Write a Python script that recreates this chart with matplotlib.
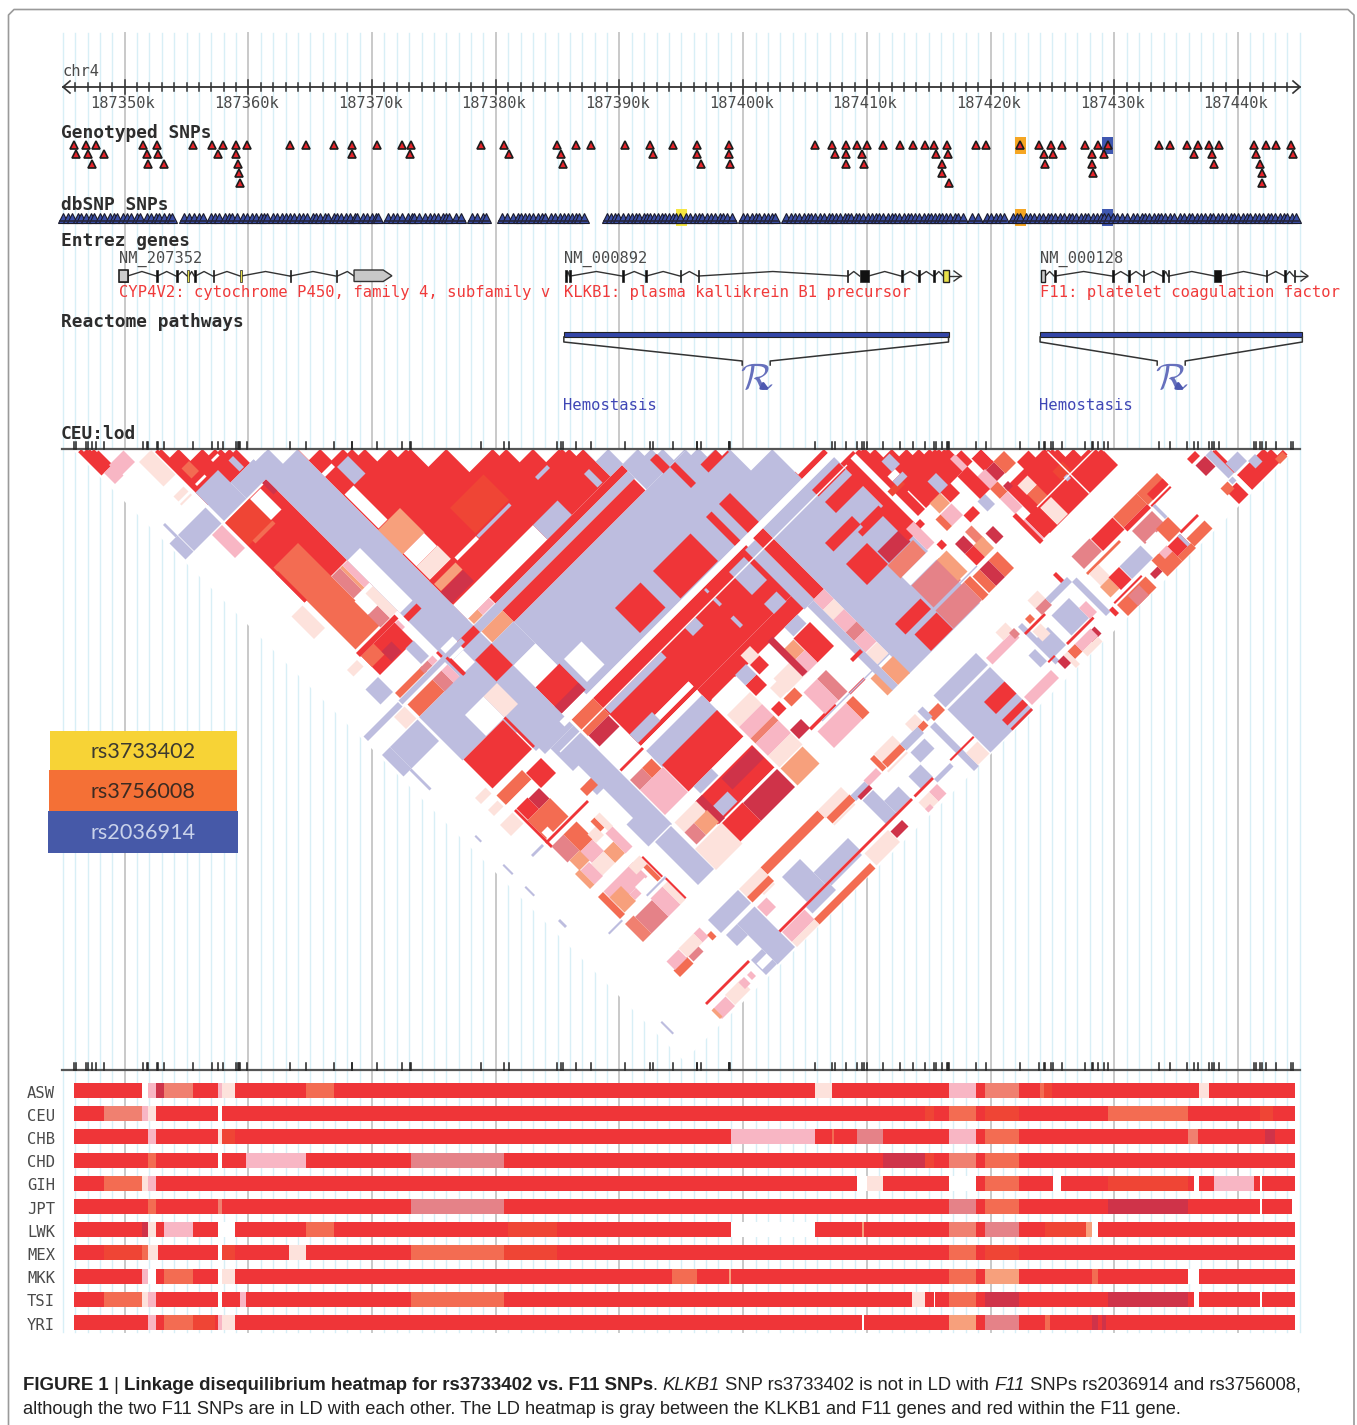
import matplotlib
matplotlib.use('Agg')
import matplotlib.pyplot as plt
from matplotlib.patches import Rectangle, Polygon
from matplotlib.transforms import Affine2D

# ---- genome positions are in kb beyond 187000 kb
snp_row1 = [345.94,346.86,347.69,351.48,352.60,355.50,357.06,357.98,358.97,359.86,363.33,364.65,366.95,368.34,370.42,372.43,373.16,378.83,380.65,384.97,386.45,387.71,390.47,392.46,394.30,396.28,398.85,405.84,407.2,408.3,409.17,409.97,411.32,412.7,413.7,414.69,415.44,416.47,418.81,419.63,422.34,423.92,424.91,425.74,427.65,428.67,429.46,433.65,434.48,435.9,436.79,437.68,438.5,441.3,442.23,443.09,444.31]
snp_row2 = [346.10,347.0,348.31,351.81,352.70,357.55,358.97,368.41,373.06,381.04,385.30,392.69,396.3,398.87,407.43,408.3,409.57,415.57,416.56,424.32,425.08,428.21,429.2,436.46,437.91,441.47,444.44]
snp_row3 = [347.33,351.91,353.2,359.14,385.43,396.6,398.91,408.3,409.8,416.07,424.42,428.21,438.04,441.8]
snp_row4 = [359.2,416.07,428.31,441.97]
snp_row5 = [359.3,416.66,441.97]
snp_rows = [snp_row1, snp_row2, snp_row3, snp_row4, snp_row5]
dbsnp_sites = [
345.0,345.4,345.7,346.2,346.5,346.9,347.3,347.5,348.0,348.3,348.8,349.1,349.4,349.9,350.2,350.5,351.0,351.2,351.8,352.1,352.5,352.8,353.2,353.6,353.8,
354.8,355.2,355.6,356.0,356.3,
357.0,357.3,357.6,358.1,358.4,358.7,359.1,359.6,359.9,360.3,360.6,361.0,361.3,361.5,362.0,362.3,362.7,363.0,363.4,363.7,364.1,364.4,364.7,365.2,365.5,365.8,366.2,366.4,366.9,367.2,367.5,367.9,368.2,368.6,368.8,369.3,369.6,370.0,370.3,370.5,
371.3,371.7,372.0,372.4,372.9,373.2,373.4,373.8,374.3,374.7,375.0,375.3,375.7,376.0,376.2,376.8,377.2,
378.1,378.5,379.0,379.2,
380.5,380.9,381.4,381.8,382.0,382.4,382.7,383.0,383.4,383.7,384.0,384.5,384.8,385.2,385.5,385.8,386.2,386.5,386.7,387.1,
389.0,389.3,389.6,389.9,390.3,390.7,391.0,391.3,391.6,392.0,392.2,392.5,392.8,393.1,393.4,393.7,394.0,394.3,394.6,394.9,395.4,395.7,396.1,396.4,396.7,397.1,397.4,397.7,398.1,398.4,398.7,399.1,
400.0,400.3,400.7,401.0,401.3,401.7,402.0,402.3,402.6,
403.5,403.9,404.2,404.5,404.9,405.2,405.5,405.8,406.2,406.5,406.9,407.2,407.5,407.8,408.2,408.5,408.7,409.1,409.4,409.7,410.1,410.4,410.7,411.0,411.3,411.7,412.0,412.3,412.6,413.0,413.3,413.6,413.9,414.2,414.6,414.9,415.2,415.5,415.8,416.1,416.4,416.7,417.1,417.4,417.8,
418.5,419.0,
419.7,420.0,420.4,420.8,421.1,
421.8,422.1,422.4,422.9,423.2,423.5,423.9,424.2,424.6,424.9,425.2,425.6,425.9,426.3,426.6,426.9,427.3,427.6,427.9,428.3,428.6,428.9,429.2,429.5,429.9,430.2,430.6,431.0,431.5,431.8,432.2,432.5,432.8,433.2,433.5,433.8,434.1,434.5,434.8,435.3,435.6,436.0,436.3,436.7,437.0,437.3,437.7,438.0,438.4,438.7,439.0,439.4,439.7,440.0,440.4,440.7,441.0,441.4,441.7,442.0,442.4,442.7,443.0,443.4,443.7,444.0,444.4,444.7]
dbsnp_segments = [(344.78,354.02),(354.58,356.56),(356.76,370.75),(371.08,377.54),(377.87,379.42),(380.25,387.34),(388.76,399.41),(399.77,402.81),(403.3,417.98),(418.31,419.2),(419.47,421.28),(421.55,444.97)]
highlight_snps = [(395.01,'#f5e642',False),(422.38,'#f5a623',True),(429.49,'#3f57b0',True)]
major_kb = [350,360,370,380,390,400,410,420,430,440]
major_labels = ['187350k','187360k','187370k','187380k','187390k','187400k','187410k','187420k','187430k','187440k']

gene_1_exons = [(349.57,350.23),(352.55,352.65),(354.14,354.24),(355.05,355.2),(355.62,355.72),(357.11,357.21),(359.32,359.44),(363.33,363.39),(367.05,367.2)]
gene_1_yellow = [(355.05,355.2),(359.32,359.44)]
gene_2_exons = [(385.59,385.7),(385.95,386.05),(390.2,390.3),(392.08,392.18),(394.88,394.98),(396.32,396.42),(408.37,408.47),(409.41,410.13),(412.75,412.85),(414.14,414.24),(415.36,415.46),(416.17,416.66)]
gene_3_exons = [(424.09,424.42),(425.13,425.23),(429.81,429.91),(431.13,431.23),(432.28,432.38),(433.87,433.97),(434.33,434.43),(438.1,438.64),(442.25,442.35),(443.75,443.85),(444.49,444.59)]
gene_labels = [('NM_207352','CYP4V2: cytochrome P450, family 4, subfamily v',349.5),('NM_000892','KLKB1: plasma kallikrein B1 precursor',385.48),('NM_000128','F11: platelet coagulation factor',423.98)]
pathway_spans = [(385.5,416.6),(424.0,445.2)]

# ---- population phase tracks: list of (end kb, state) from start kb
populations = ['ASW','CEU','CHB','CHD','GIH','JPT','LWK','MEX','MKK','TSI','YRI']
track_start = 345.93
tracks = {
'ASW':[(351.41,'R'),(351.85,'W'),(352.53,'P'),(353.21,'D'),(355.52,'S'),(357.56,'R'),(357.9,'P'),(358.92,'L'),(364.67,'R'),(366.88,'O'),(405.78,'R'),(407.18,'L'),(416.67,'R'),(418.78,'P'),(419.56,'R'),(422.28,'S'),(423.98,'R'),(424.3,'O'),(424.94,'F'),(436.81,'R'),(437.66,'L'),(444.57,'R')],
'CEU':[(348.34,'R'),(351.41,'S'),(351.92,'P'),(352.53,'L'),(357.56,'R'),(357.9,'W'),(414.66,'R'),(415.41,'F'),(416.67,'R'),(418.78,'O'),(419.56,'R'),(422.28,'F'),(429.46,'R'),(435.92,'O'),(441.8,'R'),(442.8,'F'),(444.57,'R')],
'CHB':[(351.92,'R'),(352.53,'P'),(357.56,'R'),(357.9,'L'),(358.9,'F'),(398.98,'R'),(405.78,'P'),(407.18,'R'),(407.35,'O'),(409.19,'R'),(411.29,'M'),(416.67,'R'),(418.78,'P'),(419.56,'R'),(422.28,'O'),(435.92,'R'),(436.75,'S'),(442.15,'R'),(443.0,'D'),(444.57,'R')],
'CHD':[(351.85,'R'),(352.53,'O'),(357.56,'R'),(357.9,'W'),(359.81,'R'),(364.67,'P'),(373.18,'R'),(380.66,'M'),(411.29,'R'),(414.66,'D'),(415.41,'F'),(416.67,'R'),(418.78,'S'),(419.56,'R'),(422.28,'O'),(444.57,'R')],
'GIH':[(348.34,'R'),(351.41,'O'),(351.92,'L'),(352.53,'P'),(409.19,'R'),(410.0,'W'),(411.29,'L'),(416.67,'R'),(418.78,'W'),(419.56,'R'),(422.28,'O'),(425.07,'R'),(425.69,'W'),(429.46,'R'),(435.92,'F'),(436.47,'R'),(436.81,'W'),(438.07,'R'),(441.3,'P'),(441.8,'R'),(441.9,'W'),(444.57,'R')],
'JPT':[(351.85,'R'),(352.53,'O'),(357.56,'R'),(357.9,'S'),(373.18,'R'),(380.66,'M'),(416.67,'R'),(418.78,'M'),(419.56,'R'),(422.28,'O'),(429.46,'R'),(435.92,'D'),(441.81,'R'),(441.9,'W'),(444.33,'R')],
'LWK':[(351.41,'R'),(351.85,'D'),(352.53,'L'),(353.21,'R'),(355.52,'P'),(357.56,'R'),(358.92,'W'),(364.67,'R'),(366.88,'O'),(381.0,'R'),(384.91,'F'),(398.98,'R'),(405.78,'W'),(409.59,'R'),(409.8,'T'),(416.67,'R'),(418.78,'S'),(419.56,'R'),(422.28,'M'),(424.4,'R'),(427.69,'F'),(428.2,'T'),(428.68,'W'),(444.57,'R')],
'MEX':[(348.34,'R'),(351.41,'F'),(351.85,'O'),(352.66,'L'),(357.56,'R'),(357.9,'W'),(358.92,'F'),(363.31,'R'),(364.67,'L'),(373.18,'R'),(380.66,'O'),(384.91,'F'),(416.67,'R'),(418.78,'O'),(419.56,'R'),(422.28,'F'),(444.57,'R')],
'MKK':[(351.41,'R'),(351.92,'P'),(352.53,'W'),(353.21,'R'),(355.52,'O'),(357.56,'R'),(357.9,'W'),(358.92,'L'),(394.27,'R'),(396.29,'O'),(398.84,'R'),(398.98,'T'),(416.67,'R'),(418.78,'O'),(419.56,'R'),(422.28,'T'),(428.2,'R'),(428.68,'O'),(435.92,'R'),(436.81,'W'),(444.57,'R')],
'TSI':[(348.34,'R'),(351.41,'O'),(351.92,'L'),(352.53,'P'),(357.56,'R'),(357.9,'W'),(359.33,'R'),(359.81,'P'),(373.18,'R'),(380.66,'O'),(413.68,'R'),(414.66,'L'),(415.41,'R'),(415.5,'W'),(416.67,'R'),(418.78,'O'),(419.56,'R'),(422.28,'D'),(429.46,'R'),(435.92,'D'),(436.47,'R'),(436.81,'W'),(441.81,'R'),(441.9,'W'),(444.57,'R')],
'YRI':[(351.85,'R'),(352.53,'P'),(353.21,'R'),(355.52,'O'),(357.3,'F'),(357.56,'R'),(357.9,'P'),(358.92,'L'),(409.59,'R'),(409.8,'W'),(416.67,'R'),(418.78,'T'),(419.56,'R'),(422.28,'M'),(424.36,'R'),(424.8,'O'),(428.2,'R'),(428.68,'D'),(429.0,'R'),(429.3,'D'),(444.57,'R')],
}

palette = {'R':'#ef3538','G':'#bdbddf','W':'#ffffff','P':'#f8b6c4','L':'#fde2dc','O':'#f36c52','T':'#f7a07c','M':'#e58288','D':'#cf3349','F':'#ef4535','S':'#f08070'}

# ---- LD blocks: (first SNP from, to, second SNP from, to, state), SNP positions in track units
ld_upper_left = [
(75,97,81,128,'R'),(80,97,128,150,'P'),(93,122,125,148,'P'),(126,150,152,201,'L'),
(152,236,158,264,'R'),(162,177,201,221,'O'),(160,179,230,234,'W'),(200,213,222,226,'W'),(217,226,240,262,'G'),
(126,146,221,231,'L'),(125,146,235,238,'L'),(92,147,264,296,'G'),(75,91,264,296,'G'),(87,91,239,264,'G'),(126,146,298,344,'P'),
(151,236,299,458,'R'),(152,200,299,345,'F'),(200,221,300,342,'W'),(228,236,296,319,'D'),(161,201,344,350,'O'),
(155,204,392,556,'O'),(151,156,400,458,'R'),(204,221,459,503,'M'),(221,226,459,503,'T'),(226,236,459,503,'P'),(236,239,459,560,'R'),
(202,229,507,534,'W'),(202,221,534,559,'M'),(221,236,510,559,'L'),(214,227,569,583,'P'),(154,221,568,606,'R'),
(154,179,568,590,'O'),(179,199,584,604,'D'),(152,229,560,568,'R'),
(124,146,459,504,'L'),(126,146,568,581,'L'),(125,150,606,636,'G'),(76,145,651,660,'G'),(126,147,662,686,'L'),
(92,147,688,731,'G'),(76,92,688,731,'G'),(88,92,731,771,'G'),
]
ld_upper_red = [
(297,583,298,638,'R'),(299,317,390,458,'W'),(297,341,459,508,'T'),(299,340,508,534,'W'),(299,341,534,561,'L'),
(297,317,346,353,'W'),(319,341,355,390,'G'),(391,458,509,560,'F'),(346,389,563,569,'W'),(390,455,563,568,'G'),(507,531,563,569,'G'),
(297,342,561,568,'R'),(299,342,569,583,'T'),(297,342,584,606,'D'),(297,457,609,638,'W'),(457,506,609,638,'G'),(559,569,609,636,'G'),
(299,317,638,649,'T'),(317,340,638,649,'P'),(341,606,638,650,'R'),(297,606,650,664,'G'),(341,604,664,687,'R'),(299,341,664,686,'T'),
(341,772,687,832,'G'),(583,772,583,638,'G'),(606,772,638,687,'G'),(639,652,661,688,'R'),(652,662,688,730,'R'),(685,726,716,732,'R'),
(297,341,686,730,'G'),(299,341,730,773,'W'),(297,345,774,826,'R'),(297,345,812,826,'D'),(345,354,774,826,'G'),(354,389,774,820,'W'),
(456,507,774,824,'R'),(531,606,775,830,'R'),(664,686,774,832,'R'),(638,649,774,832,'R'),(772,825,818,832,'R'),
]
ld_gray_main = [
(152,197,239,296,'G'),(197,262,264,296,'G'),(236,297,264,650,'G'),(236,261,459,564,'W'),(236,262,571,581,'R'),
(206,222,605,636,'G'),
(232,297,650,800,'G'),(241,265,640,664,'W'),(241,262,664,688,'W'),(239,242,660,690,'R'),(232,236,640,650,'R'),(264,297,650,663,'R'),(264,297,686,729,'R'),
(151,205,639,649,'O'),(200,216,639,649,'M'),(216,226,639,649,'P'),(147,272,650,658,'G'),
(152,202,663,687,'O'),(202,220,663,688,'M'),(220,232,663,688,'P'),(236,240,655,690,'R'),
(151,236,687,774,'G'),(199,236,731,773,'W'),(236,263,731,773,'L'),(153,232,774,832,'R'),
(234,251,774,838,'G'),(234,238,773,832,'R'),(240,297,774,850,'G'),(251,297,850,1047,'G'),(262,294,1047,1134,'G'),
(239,264,943,1002,'W'),(240,262,895,920,'W'),(240,262,920,934,'O'),
]
ld_middle = [
(344,650,842,938,'R'),(456,650,938,963,'R'),(644,664,846,965,'G'),(664,684,842,964,'R'),
(606,636,852,898,'G'),(609,634,919,939,'G'),(606,632,963,981,'G'),(506,527,864,880,'G'),(561,567,900,919,'G'),(562,567,864,877,'G'),(563,567,845,852,'G'),
(346,458,864,875,'G'),(344,389,915,932,'G'),(389,456,921,931,'W'),(344,456,938,941,'W'),(344,456,948,981,'G'),
(301,344,842,875,'O'),(302,342,875,897,'D'),(299,342,898,938,'W'),(299,344,940,944,'R'),(299,344,945,961,'W'),
(299,323,961,981,'M'),(323,342,961,981,'O'),(299,345,981,1031,'P'),(346,456,978,1031,'R'),
(392,456,1031,1040,'W'),(356,392,1031,1045,'G'),(342,456,1048,1093,'R'),(356,385,1070,1090,'G'),(392,455,1051,1073,'D'),(344,356,1048,1094,'D'),
(389,457,1097,1133,'D'),(344,389,1096,1133,'R'),(301,344,1048,1068,'L'),(320,346,1068,1092,'T'),(301,320,1068,1092,'M'),(295,348,1095,1137,'L'),
(684,826,842,1134,'G'),(771,825,853,866,'R'),(772,830,878,900,'R'),(731,785,919,936,'R'),(785,822,935,948,'R'),(775,825,941,950,'R'),
(731,773,961,1003,'R'),(775,818,980,1003,'D'),(816,850,940,1000,'R'),(771,822,1004,1030,'S'),(774,830,1030,1047,'W'),
(775,830,1048,1092,'M'),(826,845,1048,1090,'T'),(720,771,1070,1091,'R'),(729,773,1100,1133,'R'),(774,831,1097,1133,'M'),(831,843,1097,1134,'O'),
(662,684,964,984,'P'),(662,684,984,1004,'L'),(662,684,1004,1029,'P'),(662,684,1029,1046,'M'),(662,684,1046,1069,'P'),(662,684,1070,1093,'L'),(662,686,1100,1134,'T'),
(650,662,965,1134,'G'),(641,651,1100,1134,'T'),(604,637,983,1031,'R'),(579,603,984,1006,'T'),(578,604,1006,1031,'P'),(544,578,1003,1031,'L'),
(461,507,962,993,'W'),(461,507,993,1017,'L'),(461,507,1017,1040,'P'),(461,507,1040,1050,'S'),(461,507,1050,1075,'P'),(461,507,1075,1098,'L'),(461,505,1100,1134,'T'),
(509,531,982,1003,'R'),(509,531,961,982,'G'),(511,527,1031,1046,'R'),(509,531,1071,1089,'D'),(530,580,1088,1093,'R'),(605,635,1092,1096,'R'),
(534,553,947,966,'L'),(534,553,966,985,'R'),(531,553,1009,1030,'L'),(534,556,1033,1049,'O'),(587,605,1047,1090,'M'),(560,587,1047,1090,'P'),
(592,606,1100,1133,'O'),(535,592,1100,1133,'P'),(575,585,960,1030,'D'),(640,660,1060,1066,'R'),
]
ld_lower_left = [
(150,201,843,862,'O'),(150,200,862,868,'W'),(202,232,850,880,'R'),(179,200,878,899,'D'),(157,179,876,899,'R'),(156,201,899,936,'O'),(158,170,925,938,'W'),(152,156,876,950,'R'),
(152,236,938,942,'R'),(154,178,949,981,'M'),(178,204,949,983,'O'),(158,179,981,1001,'T'),(178,202,983,1006,'P'),(202,218,973,990,'L'),(201,221,1006,1029,'T'),(176,201,1006,1029,'L'),(159,176,1002,1030,'P'),(150,159,1000,1030,'T'),
(218,226,963,983,'O'),(226,236,963,990,'L'),(221,235,990,1030,'P'),
(161,220,1046,1075,'P'),(161,184,1058,1088,'T'),(184,211,1075,1086,'P'),(197,216,1073,1091,'W'),(150,160,1046,1090,'O'),(211,233,1046,1062,'L'),(225,232,1062,1090,'O'),(233,236,1050,1090,'R'),
(124,151,1092,1095,'G'),(200,238,1092,1095,'G'),(167,201,1103,1136,'M'),(150,167,1100,1136,'S'),(201,225,1100,1136,'P'),(225,235,1100,1136,'L'),(235,238,1095,1135,'R'),
(87,90,862,874,'G'),(86,89,919,938,'G'),(86,89,963,981,'G'),(86,90,1030,1044,'G'),(87,90,1234,1258,'G'),(125,147,937,941,'G'),
(126,147,824,836,'L'),(127,146,849,861,'L'),(124,149,876,898,'L'),
]
ld_right_cluster = [
(826,960,855,985,'R'),(841,851,860,990,'W'),(865,867,950,1040,'W'),(869,885,894,915,'G'),(895,912,960,985,'G'),(860,875,915,925,'W'),(845,870,930,940,'F'),(860,880,925,935,'G'),
(875,896,984,1004,'T'),(875,897,1006,1029,'P'),(865,875,1006,1029,'O'),(897,916,984,1004,'R'),(897,916,1030,1044,'R'),(841,851,1032,1043,'R'),(826,841,986,1028,'P'),
(962,981,981,1007,'R'),(959,981,1007,1029,'D'),(981,1002,1006,1030,'O'),(1004,1027,1030,1049,'R'),(966,1102,1044,1134,'R'),(981,1001,1054,1073,'L'),(982,1001,1073,1096,'O'),(981,1003,1099,1133,'L'),(955,981,1095,1133,'R'),(945,955,1095,1133,'P'),
(1030,1050,1075,1095,'F'),(966,976,1040,1050,'D'),(1035,1042,1092,1100,'G'),(940,950,960,985,'P'),(948,965,1005,1030,'P'),(950,965,1030,1050,'O'),(925,940,1030,1050,'G'),(950,965,1050,1080,'P'),(945,952,1080,1135,'R'),(930,950,985,1030,'R'),
(901,916,1070,1091,'D'),(882,895,1048,1076,'S'),(877,895,1070,1093,'T'),(860,877,1070,1093,'R'),(860,877,1050,1070,'D'),(877,895,1100,1133,'O'),(859,877,1100,1133,'D'),(845,859,1100,1133,'O'),
]
ld_outer_strip = [
(342,456,1179,1193,'O'),(299,342,1179,1195,'L'),(299,342,1195,1206,'O'),(237,297,1179,1205,'G'),(456,503,1179,1195,'L'),(458,504,1195,1207,'O'),(458,500,1208,1211,'L'),
(569,606,1179,1195,'L'),(569,605,1195,1206,'O'),(565,604,1209,1212,'L'),(532,557,1195,1206,'P'),(504,532,1197,1208,'G'),(605,640,1195,1208,'G'),(640,652,1195,1205,'O'),(662,684,1192,1206,'O'),(630,650,1180,1195,'L'),(655,665,1180,1200,'G'),
(511,532,1214,1263,'G'),(532,561,1236,1260,'G'),(508,531,1273,1286,'D'),(354,390,1210,1260,'G'),(390,459,1237,1260,'G'),(348,395,1264,1277,'G'),(395,456,1264,1268,'G'),(296,562,1260,1264,'R'),(344,456,1284,1295,'O'),(460,507,1269,1293,'L'),(299,344,1265,1285,'P'),(299,344,1285,1295,'L'),
(262,297,1212,1293,'G'),(240,262,1212,1234,'G'),(240,262,1262,1292,'G'),(242,262,1271,1283,'W'),(299,318,1215,1234,'P'),(318,340,1207,1210,'L'),
(209,221,1178,1196,'P'),(221,229,1193,1204,'O'),(179,209,1178,1196,'L'),(181,201,1196,1206,'M'),(152,179,1195,1208,'O'),(154,178,1179,1196,'P'),
(151,237,1259,1263,'R'),(152,178,1273,1292,'P'),(179,210,1271,1291,'L'),(205,216,1272,1285,'P'),(221,229,1273,1283,'P'),(150,155,1273,1290,'T'),
(652,662,1208,1297,'G'),(662,685,1270,1294,'L'),(639,686,1260,1263,'R'),(607,635,1214,1234,'G'),(581,605,1236,1261,'G'),(604,636,1264,1271,'G'),(586,602,1272,1291,'P'),(565,586,1272,1291,'L'),(565,575,1285,1292,'P'),(567,604,1260,1264,'R'),(560,568,1180,1205,'O'),(510,533,1205,1212,'D'),
(687,772,1180,1204,'G'),(687,772,1208,1294,'G'),(731,772,1237,1261,'R'),(731,772,1273,1284,'R'),(731,772,1290,1294,'R'),(776,830,1272,1288,'P'),(777,831,1195,1208,'P'),(812,832,1179,1195,'L'),(825,835,1193,1205,'M'),
(822,835,1235,1259,'G'),(847,870,1226,1262,'G'),(840,848,1196,1271,'G'),(850,866,1215,1235,'L'),(855,865,1195,1205,'O'),(840,880,1208,1212,'R'),
(899,917,1272,1286,'D'),(865,880,1270,1285,'O'),(880,911,1270,1285,'P'),(880,910,1285,1295,'L'),(857,865,1270,1295,'L'),(845,857,1270,1285,'D'),(835,848,1260,1263,'R'),(872,925,1260,1264,'R'),
(927,933,1179,1196,'R'),(876,896,1179,1195,'L'),(876,896,1195,1208,'M'),(896,939,1195,1205,'G'),(885,920,1218,1258,'G'),(920,934,1238,1260,'P'),(939,948,1205,1273,'G'),(948,955,1270,1283,'R'),
(962,1028,1210,1214,'O'),(964,983,1214,1244,'L'),(962,980,1238,1259,'T'),(980,1001,1237,1262,'R'),(1002,1044,1237,1262,'G'),(961,1018,1273,1295,'O'),(981,1003,1275,1295,'M'),(960,1015,1267,1270,'R'),(1025,1040,1275,1285,'D'),
(1040,1070,1263,1295,'O'),(1070,1097,1285,1295,'O'),(1070,1095,1265,1285,'R'),(1055,1070,1263,1275,'P'),
(964,1000,1179,1204,'M'),(1001,1044,1181,1205,'R'),(1045,1092,1181,1202,'O'),(1045,1092,1202,1210,'R'),(1092,1133,1181,1204,'O'),(1102,1133,1192,1204,'R'),(1094,1133,1207,1210,'R'),
(1050,1090,1214,1240,'M'),(1076,1100,1236,1262,'O'),(1053,1073,1238,1263,'W'),(1095,1100,1210,1235,'G'),(1097,1133,1276,1292,'O'),(1097,1132,1262,1266,'R'),(1090,1095,1265,1285,'G'),
(1177,1193,1197,1207,'R'),(1179,1198,1212,1233,'D'),(1199,1210,1212,1258,'G'),(1210,1215,1215,1258,'R'),(1211,1235,1240,1259,'G'),(1211,1282,1263,1293,'R'),(1236,1250,1260,1275,'G'),(1265,1280,1285,1295,'O'),(1184,1203,1270,1294,'R'),(1181,1195,1260,1274,'O'),(1197,1205,1260,1268,'G'),(1209,1211,1265,1293,'W'),
]
ld_thin_lines = [
(287,830,832,842,'W'),(257,831,862,864,'W'),(389,456,921,931,'W'),(344,456,938,941,'W'),(392,455,1093,1096,'W'),(250,295,1046,1048,'W'),(550,860,1093,1095,'G'),
(979,1100,1094,1096,'W'),(1044,1046,1050,1134,'W'),
]
ld_layers = [ld_upper_left, ld_upper_red, ld_gray_main, ld_middle, ld_lower_left, ld_right_cluster, ld_outer_strip, ld_thin_lines]

legend_rows = [('rs3733402','#f7d336','#3c3a30',731,771,50,237),('rs3756008','#f47036','#3c2a22',770,812,49,237),('rs2036914','#4659a8','#c9d2ea',811,853,48,238)]

# ---- figure
W, H = 1357, 1425
fig = plt.figure(figsize=(W/100, H/100), dpi=100, facecolor='white')
ax = fig.add_axes([0, 0, 1, 1])
ax.set_xlim(0, W); ax.set_ylim(H, 0); ax.axis('off')

X0, PX_KB = 124.7, 12.37
def gx(kb):
    return X0 + (kb - 350) * PX_KB
genome = Affine2D().translate(-350, 0).scale(PX_KB, 1).translate(X0, 0) + ax.transData

MONO = 'DejaVu Sans Mono'
GREY = '#4a4a4a'

# frame
ax.plot([8.5, 8.5, 14, 1348, 1354, 1354], [1425, 15, 9.5, 9.5, 15, 1425], color='#9a9a9a', lw=1.2, zorder=1)

# vertical grid
for k in range(345, 446):
    major = k in major_kb
    ax.plot([k, k], [33, 1332], transform=genome, color='#c9c9c9' if major else '#d8eff6', lw=1.4 if major else 1.0, zorder=1)

# ruler
ax.plot([345, 445], [87, 87], transform=genome, color='#333333', lw=1.3, zorder=3)
for k in range(346, 445):
    major = k in major_kb
    ax.plot([k, k], [87 - (7 if major else 4), 87 + (7 if major else 4)], transform=genome, color='#333333', lw=1.1, zorder=3)
ax.plot([70, 63, 70], [81, 87, 93], color='#333333', lw=1.2, zorder=3)
ax.plot([1293, 1300, 1293], [81, 87, 93], color='#333333', lw=1.2, zorder=3)
for k, lab in zip(major_kb, major_labels):
    ax.text(gx(k) - 2, 103, lab, family=MONO, fontsize=11.1, color=GREY, ha='center', va='center', zorder=4)
ax.text(62, 71.5, 'chr4', family=MONO, fontsize=11.1, color=GREY, ha='left', va='center', zorder=4)

# section titles
for y, s in [(132.5, 'Genotyped SNPs'), (205, 'dbSNP SNPs'), (241, 'Entrez genes'), (321.5, 'Reactome pathways'), (433.5, 'CEU:lod')]:
    ax.text(61, y, s, family=MONO, fontweight='bold', fontsize=12.9, color='#2d2d2d', ha='left', va='center', zorder=6)

# highlighted SNPs
for k, col, in_geno in highlight_snps:
    x = gx(k)
    ax.add_patch(Rectangle((x - 5.5, 209), 11, 17, facecolor=col, edgecolor='none', zorder=2))
    if in_geno:
        ax.add_patch(Rectangle((x - 5.5, 136.5), 11, 17.5, facecolor=col, edgecolor='none', zorder=2))

# genotyped SNP triangles
for row, y in zip(snp_rows, [145, 154.3, 163.7, 173.3, 182.7]):
    ax.plot(row, [y] * len(row), transform=genome, linestyle='none', marker='^', ms=6.2, mfc='#e8232a', mec='#1c1c1c', mew=1.2, zorder=3)

# dbSNP band
ax.plot(dbsnp_sites, [217.5] * len(dbsnp_sites), transform=genome, linestyle='none', marker='^', ms=7.2, mfc='#3a4ea6', mec='#1a1a2a', mew=0.8, zorder=3)
for k0, k1 in dbsnp_segments:
    ax.plot([gx(k0), gx(k1)], [221.3, 221.3], color='#26263a', lw=1.2, zorder=4)

# genes
def gene(exons, yellow=()):
    y = 276
    for (a0, a1), (b0, b1) in zip(exons[:-1], exons[1:]):
        m = (a1 + b0) / 2
        ax.plot([a1, m, b0], [y, y - 4.5, y], transform=genome, color='#333333', lw=1.0, zorder=3)
    for e0, e1 in exons:
        col = '#e8e04a' if (e0, e1) in yellow else '#111111'
        ax.add_patch(Rectangle((gx(e0), 270), max(gx(e1) - gx(e0), 1.6), 11.5, facecolor=col, edgecolor='#222222', lw=0.5, zorder=4))
gene(gene_1_exons, yellow=gene_1_yellow)
ax.plot([gene_1_exons[-1][1], 368.0, 368.54], [276, 271.5, 276], transform=genome, color='#333333', lw=1.0, zorder=3)
ax.add_patch(Polygon([(gx(368.54), 270), (gx(370.9), 270), (gx(371.6), 275.8), (gx(370.9), 281.5), (gx(368.54), 281.5)], facecolor='#c8c8c8', edgecolor='#333333', lw=1, zorder=4))
ax.add_patch(Rectangle((gx(349.57), 270), gx(350.23) - gx(349.57), 11.5, facecolor='#cccccc', edgecolor='#222222', lw=1.2, zorder=5))
gene(gene_2_exons)
ax.add_patch(Rectangle((gx(416.17), 270), gx(416.66) - gx(416.17), 11.5, facecolor='#e8e04a', edgecolor='#222222', lw=1.0, zorder=5))
ax.plot([416.66, 417.59], [276, 276], transform=genome, color='#333333', lw=1.0, zorder=3)
ax.plot([954, 961, 954], [271, 276, 281], color='#333333', lw=1.0, zorder=3)
gene(gene_3_exons)
ax.add_patch(Rectangle((gx(424.09), 270), gx(424.42) - gx(424.09), 11.5, facecolor='#cccccc', edgecolor='#222222', lw=1.0, zorder=5))
ax.plot([444.59, 445.6], [276, 276], transform=genome, color='#333333', lw=1.0, zorder=3)
ax.plot([1301, 1308, 1301], [271, 276, 281], color='#333333', lw=1.0, zorder=3)
for nm, name, k in gene_labels:
    ax.text(gx(k), 259, nm, family=MONO, fontsize=11.1, color=GREY, ha='left', va='center', zorder=6)
    ax.text(gx(k), 292, name, family=MONO, fontsize=11.15, color='#f03a3a', ha='left', va='center', zorder=6)

# reactome
for k0, k1 in pathway_spans:
    x0, x1 = gx(k0), gx(k1)
    xm = (x0 + x1) / 2
    ax.add_patch(Rectangle((x0, 332), x1 - x0, 5, facecolor='#3346a8', edgecolor='#222222', lw=0.8, zorder=3))
    ax.plot([x0, x0, xm - 14, xm - 14], [337, 342, 361, 365], color='#333333', lw=1.1, zorder=3)
    ax.plot([x1, x1, xm + 14, xm + 14], [337, 342, 361, 365], color='#333333', lw=1.1, zorder=3)
    ax.text(xm + 1, 379, r'$\mathcal{R}$', fontsize=27, math_fontfamily='cm', color='#6670bd', ha='center', va='center', zorder=4)
    ax.annotate('', xy=(xm + 16, 391), xytext=(xm + 4, 385), arrowprops=dict(arrowstyle='-|>', color='#4c58b0', lw=2), zorder=4)
    ax.text(x0 - 1, 405, 'Hemostasis', family=MONO, fontsize=11.2, color='#3f46b5', ha='left', va='center', zorder=6)

# SNP tick rows
all_snps = sorted(set(snp_row1 + snp_row2 + snp_row3 + snp_row4 + snp_row5))
for y0, y1 in [(442, 448.5), (1063, 1069.5)]:
    ax.plot([62, 1300], [y1, y1], color='#555555', lw=1.6, zorder=6)
    for k in all_snps:
        ax.plot([k, k], [y0, y1], transform=genome, color='#222222', lw=1.1, zorder=6)

# LD heatmap: (first, second) -> x = (first+second)/2, y = Y_TOP + (second-first)/2
Y_TOP = 449.0
ld_to_data = Affine2D.from_values(0.5, -0.5, 0.5, 0.5, 0, Y_TOP) + ax.transData

A_MIN, B_MAX = 72, 1296
ax.add_patch(Polygon([(A_MIN, Y_TOP), (B_MAX, Y_TOP), ((A_MIN + B_MAX) / 2, Y_TOP + (B_MAX - A_MIN) / 2)], facecolor='white', edgecolor='none', zorder=2))

xs = [gx(k) for k in all_snps]
mids = [(p + q) / 2 for p, q in zip(xs[:-1], xs[1:])]
outline = [(A_MIN, Y_TOP)]
for m0, m1 in zip(mids[:-1], mids[1:]):
    outline.append((m0, Y_TOP))
    outline.append(((m0 + m1) / 2, Y_TOP + (m1 - m0) / 2))
outline += [(mids[-1], Y_TOP), (B_MAX, Y_TOP), ((A_MIN + B_MAX) / 2, Y_TOP + (B_MAX - A_MIN) / 2)]
clip = Polygon(outline, transform=ax.transData, facecolor='none', edgecolor='none')
ax.add_patch(clip)

z = 3.0
for layer in ld_layers:
    for a0, a1, b0, b1, key in layer:
        p = Rectangle((a0, b0), a1 - a0, b1 - b0, facecolor=palette[key], edgecolor='none', lw=0, transform=ld_to_data, zorder=z)
        ax.add_patch(p)
        p.set_clip_path(clip)
        z += 0.0001

# legend box
for s, col, tc, y0, y1, x0, x1 in legend_rows:
    ax.add_patch(Rectangle((x0, y0), x1 - x0, y1 - y0, facecolor=col, edgecolor='none', zorder=7))
    ax.text((x0 + x1) / 2, (y0 + y1) / 2 + 0.5, s, family='Lato', fontsize=15.6, color=tc, ha='center', va='center', zorder=8)

# population tracks
for i, pop in enumerate(populations):
    y0 = 1083.0 + 23.2 * i
    ax.text(27, y0 + 10, pop, family=MONO, fontsize=11.2, color=GREY, ha='left', va='center', zorder=6)
    start = track_start
    for end, key in tracks[pop]:
        ax.add_patch(Rectangle((start, y0), end - start, 15, transform=genome, facecolor=palette[key], edgecolor='none', lw=0, zorder=3))
        start = end

# caption
fig.canvas.draw()
rend = fig.canvas.get_renderer()
def runs(x, y, parts):
    for s, w, st, size in parts:
        ax.text(x, y, s, family='Liberation Sans', fontweight=w, fontstyle=st, fontsize=size, color='#222222', ha='left', va='center', zorder=6)
        probe = ax.text(0, 0, s.replace(' ', '\u00a0'), family='Liberation Sans', fontweight=w, fontstyle=st, fontsize=size)
        x += probe.get_window_extent(rend).width
        probe.remove()
runs(23, 1385.5, [('FIGURE 1', 'bold', 'normal', 13.42), (' | ', 'normal', 'normal', 13.25), ('Linkage disequilibrium heatmap for rs3733402 vs. F11 SNPs', 'bold', 'normal', 13.42), ('. ', 'normal', 'normal', 13.25), ('KLKB1', 'normal', 'italic', 13.25), (' SNP rs3733402 is not in LD with ', 'normal', 'normal', 13.25), ('F11', 'normal', 'italic', 13.25), (' SNPs rs2036914 and rs3756008,', 'normal', 'normal', 13.25)])
runs(23, 1410, [('although the two F11 SNPs are in LD with each other. The LD heatmap is gray between the KLKB1 and F11 genes and red within the F11 gene.', 'normal', 'normal', 13.12)])

fig.savefig('out.png', dpi=100, facecolor='white')
